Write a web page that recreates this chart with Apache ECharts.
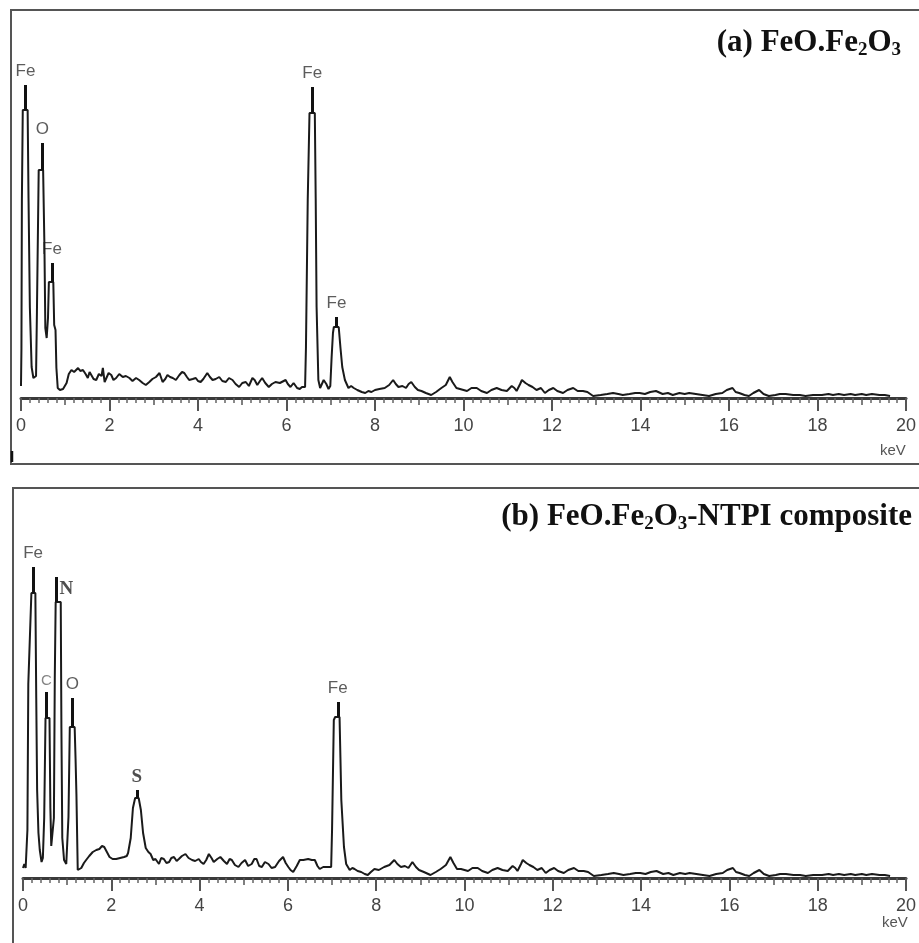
<!DOCTYPE html>
<html>
<head>
<meta charset="utf-8">
<script src="https://cdn.jsdelivr.net/npm/echarts@6/dist/echarts.min.js"></script>
<style>
  html, body { margin: 0; padding: 0; background: #fff; }
  #chart { width: 919px; height: 943px; }
</style>
</head>
<body>
<div id="chart"></div>
<script>
// EDS spectrum (a) FeO.Fe2O3 : [keV, counts]
const spectrumA = [
  [0.00, 12], [0.01, 50], [0.02, 198], [0.04, 288], [0.15, 288], [0.17, 200], [0.20, 91], [0.24, 31],
  [0.28, 20], [0.31, 18], [0.34, 22], [0.36, 86], [0.40, 228], [0.50, 228], [0.53, 150], [0.55, 70],
  [0.58, 60], [0.61, 80], [0.63, 116], [0.73, 116], [0.75, 73], [0.78, 68], [0.80, 30], [0.83, 10],
  [0.88, 8], [0.95, 9], [1.03, 15], [1.08, 24], [1.14, 28], [1.20, 26], [1.29, 30], [1.34, 27],
  [1.40, 28], [1.46, 24], [1.51, 20], [1.55, 26], [1.59, 25], [1.64, 19], [1.70, 18], [1.76, 24],
  [1.82, 22], [1.85, 30], [1.89, 16], [1.93, 15], [1.98, 25], [2.04, 23], [2.09, 18], [2.15, 20],
  [2.22, 24], [2.30, 21], [2.37, 22], [2.45, 20], [2.52, 17], [2.60, 20], [2.67, 18], [2.75, 15],
  [2.82, 13], [2.90, 16], [2.97, 19], [3.05, 21], [3.13, 25], [3.20, 16], [3.26, 19], [3.31, 23],
  [3.37, 21], [3.43, 20], [3.50, 18], [3.58, 23], [3.64, 26], [3.69, 25], [3.75, 21], [3.80, 18],
  [3.88, 19], [3.95, 20], [4.00, 17], [4.06, 16], [4.12, 19], [4.21, 25], [4.27, 21], [4.33, 18],
  [4.40, 19], [4.48, 21], [4.55, 17], [4.63, 16], [4.70, 20], [4.78, 18], [4.85, 14], [4.93, 11],
  [5.00, 15], [5.08, 16], [5.15, 12], [5.23, 20], [5.28, 18], [5.34, 13], [5.40, 17], [5.45, 20],
  [5.52, 15], [5.60, 11], [5.67, 14], [5.75, 16], [5.85, 15], [5.98, 18], [6.03, 14], [6.09, 11],
  [6.16, 15], [6.24, 10], [6.30, 9], [6.35, 11], [6.42, 11], [6.44, 51], [6.48, 198], [6.52, 285],
  [6.64, 285], [6.66, 200], [6.68, 91], [6.72, 18], [6.76, 10], [6.80, 12], [6.84, 18], [6.90, 14],
  [6.95, 9], [6.99, 12], [7.02, 41], [7.05, 65], [7.07, 71], [7.18, 71], [7.22, 50], [7.26, 31],
  [7.32, 18], [7.40, 10], [7.46, 12], [7.52, 10], [7.60, 8], [7.70, 6], [7.78, 5], [7.85, 7],
  [7.92, 6], [8.00, 8], [8.10, 9], [8.22, 10], [8.32, 13], [8.41, 18], [8.47, 14], [8.53, 11],
  [8.62, 12], [8.70, 10], [8.76, 14], [8.82, 16], [8.90, 11], [8.97, 8], [9.05, 7], [9.15, 5],
  [9.27, 3], [9.38, 6], [9.50, 10], [9.60, 13], [9.69, 21], [9.75, 16], [9.84, 10], [9.92, 9],
  [10.00, 8], [10.08, 7], [10.18, 10], [10.30, 10], [10.40, 7], [10.53, 5], [10.63, 8], [10.75, 10],
  [10.86, 8], [10.98, 7], [11.09, 12], [11.15, 10], [11.20, 7], [11.28, 14], [11.32, 18], [11.40, 15],
  [11.47, 13], [11.56, 11], [11.65, 8], [11.75, 10], [11.84, 5], [11.93, 8], [12.03, 10], [12.12, 7],
  [12.25, 5], [12.35, 8], [12.48, 10], [12.58, 7], [12.70, 7], [12.80, 6], [12.93, 2], [13.10, 3],
  [13.25, 4], [13.38, 5], [13.50, 4], [13.60, 3], [13.75, 4], [13.88, 5], [13.98, 5], [14.10, 4],
  [14.22, 6], [14.35, 7], [14.50, 4], [14.62, 5], [14.73, 3], [14.88, 5], [15.00, 4], [15.10, 5],
  [15.25, 4], [15.40, 3], [15.55, 2], [15.70, 4], [15.85, 5], [15.95, 8], [16.08, 10], [16.15, 6],
  [16.23, 5], [16.35, 3], [16.45, 2], [16.55, 5], [16.68, 8], [16.78, 4], [16.90, 2], [17.05, 3],
  [17.15, 4], [17.28, 4], [17.45, 3], [17.60, 3], [17.73, 2], [17.90, 3], [18.10, 3], [18.25, 4],
  [18.35, 3], [18.48, 4], [18.60, 3], [18.75, 4], [18.85, 3], [19.00, 4], [19.10, 3], [19.23, 4],
  [19.40, 3], [19.52, 3], [19.64, 2]
];

// EDS spectrum (b) FeO.Fe2O3-NTPI composite : [keV, counts]
const spectrumB = [
  [0.00, 10], [0.03, 14], [0.06, 10], [0.09, 11], [0.10, 48], [0.12, 194], [0.19, 285], [0.28, 285],
  [0.30, 180], [0.32, 88], [0.35, 45], [0.38, 28], [0.42, 16], [0.45, 20], [0.48, 60], [0.51, 160],
  [0.60, 160], [0.62, 70], [0.64, 32], [0.67, 30], [0.70, 60], [0.72, 200], [0.74, 276], [0.855, 276],
  [0.87, 150], [0.89, 40], [0.93, 18], [0.98, 14], [1.02, 16], [1.03, 61], [1.06, 151], [1.17, 151],
  [1.19, 120], [1.21, 84], [1.24, 8], [1.32, 10], [1.38, 15], [1.43, 18], [1.50, 22], [1.58, 26],
  [1.66, 28], [1.73, 29], [1.79, 32], [1.84, 31], [1.90, 26], [1.96, 21], [2.03, 19], [2.11, 19],
  [2.20, 20], [2.29, 21], [2.35, 22], [2.38, 25], [2.44, 40], [2.49, 70], [2.54, 80], [2.62, 80],
  [2.67, 68], [2.72, 45], [2.78, 30], [2.84, 26], [2.89, 24], [2.95, 18], [3.00, 19], [3.08, 14],
  [3.13, 20], [3.19, 19], [3.25, 15], [3.31, 16], [3.36, 20], [3.42, 21], [3.48, 17], [3.53, 19],
  [3.60, 22], [3.68, 24], [3.75, 20], [3.83, 18], [3.90, 17], [3.98, 19], [4.03, 16], [4.09, 14],
  [4.15, 18], [4.21, 24], [4.27, 20], [4.32, 16], [4.40, 19], [4.47, 21], [4.55, 17], [4.62, 14],
  [4.68, 19], [4.73, 18], [4.80, 13], [4.88, 11], [4.95, 15], [5.03, 18], [5.10, 12], [5.18, 14],
  [5.24, 19], [5.29, 19], [5.35, 12], [5.41, 11], [5.48, 16], [5.56, 14], [5.63, 10], [5.71, 11],
  [5.80, 17], [5.89, 21], [5.95, 15], [6.01, 11], [6.06, 8], [6.12, 6], [6.20, 12], [6.27, 18],
  [6.35, 18], [6.46, 19], [6.54, 18], [6.61, 18], [6.67, 12], [6.72, 9], [6.80, 11], [6.91, 11],
  [6.98, 11], [7.00, 48], [7.04, 158], [7.07, 161], [7.17, 161], [7.19, 120], [7.21, 78], [7.27, 31],
  [7.32, 14], [7.40, 8], [7.46, 10], [7.51, 9], [7.58, 7], [7.66, 6], [7.74, 4], [7.81, 3],
  [7.88, 6], [7.96, 9], [8.06, 8], [8.18, 11], [8.30, 13], [8.41, 18], [8.48, 14], [8.56, 11],
  [8.65, 12], [8.73, 10], [8.82, 16], [8.90, 11], [8.97, 8], [9.08, 6], [9.23, 3], [9.35, 6],
  [9.46, 9], [9.58, 13], [9.68, 21], [9.75, 15], [9.83, 9], [9.92, 9], [10.00, 8], [10.08, 7],
  [10.18, 10], [10.30, 10], [10.40, 7], [10.53, 5], [10.63, 8], [10.75, 10], [10.86, 8], [10.98, 7],
  [11.09, 12], [11.15, 10], [11.20, 7], [11.28, 14], [11.32, 18], [11.40, 15], [11.47, 13], [11.56, 11],
  [11.65, 8], [11.75, 10], [11.84, 5], [11.93, 8], [12.03, 10], [12.12, 7], [12.25, 5], [12.35, 8],
  [12.48, 10], [12.58, 7], [12.70, 7], [12.80, 6], [12.93, 2], [13.10, 3], [13.25, 4], [13.38, 5],
  [13.50, 4], [13.60, 3], [13.75, 4], [13.88, 5], [13.98, 5], [14.10, 4], [14.22, 6], [14.35, 7],
  [14.50, 4], [14.62, 5], [14.73, 3], [14.88, 5], [15.00, 4], [15.10, 5], [15.25, 4], [15.40, 3],
  [15.55, 2], [15.70, 4], [15.85, 5], [15.95, 8], [16.08, 10], [16.15, 6], [16.23, 5], [16.35, 3],
  [16.45, 2], [16.55, 5], [16.68, 8], [16.78, 4], [16.90, 2], [17.05, 3], [17.15, 4], [17.28, 4],
  [17.45, 3], [17.60, 3], [17.73, 2], [17.90, 3], [18.10, 3], [18.25, 4], [18.35, 3], [18.48, 4],
  [18.60, 3], [18.75, 4], [18.85, 3], [19.00, 4], [19.10, 3], [19.23, 4], [19.40, 3], [19.52, 3],
  [19.64, 2]
];

// peak annotations: element, energy (keV), peak counts, top of marker bar
const peakNamesA = ['Fe', 'O', 'Fe', 'Fe', 'Fe'];
const peakEnergyA = [0.10, 0.48, 0.70, 6.58, 7.13];
const peakTopA = [288, 228, 116, 285, 71];
const markTopA = [313, 255, 135, 311, 81];

const peakNamesB = ['Fe', 'C', 'N', 'O', 'S', 'Fe'];
const peakEnergyB = [0.23, 0.53, 0.76, 1.12, 2.58, 7.13];
const peakTopB = [285, 160, 276, 151, 80, 161];
const markTopB = [311, 186, 301, 180, 88, 176];

const xTickLabels = [0, 2, 4, 6, 8, 10, 12, 14, 16, 18, 20];

const chart = echarts.init(document.getElementById('chart'));

// 标签样式（N、S是粗体衬线字）
function labelStyle(name) {
  if (name === 'N') {
    return { position: 'right', offset: [-2, 12], fontFamily: 'Liberation Serif', fontWeight: 'bold', fontSize: 19, color: '#222' };
  }
  if (name === 'S') {
    return { position: 'top', distance: 3, fontFamily: 'Liberation Serif', fontWeight: 'bold', fontSize: 19, color: '#222' };
  }
  if (name === 'C') {
    return { position: 'top', distance: 4, fontFamily: 'Liberation Sans', fontSize: 15, color: '#666' };
  }
  return { position: 'top', distance: 5, fontFamily: 'Liberation Sans', fontSize: 17, color: '#333' };
}

function spectrumSeries(idx, data, energies, tops, marks) {
  return {
    type: 'line',
    xAxisIndex: idx * 2,
    yAxisIndex: idx,
    data: data,
    showSymbol: false,
    animation: false,
    lineStyle: { color: '#1a1a1a', width: 2 },
    markLine: {
      silent: true,
      animation: false,
      symbol: ['none', 'none'],
      label: { show: false },
      lineStyle: { color: '#111', width: 3, type: 'solid' },
      data: energies.map((e, i) => [{ coord: [e, tops[i]] }, { coord: [e, marks[i]] }])
    }
  };
}

function labelSeries(idx, names, energies, marks) {
  return {
    type: 'scatter',
    xAxisIndex: idx * 2,
    yAxisIndex: idx,
    symbolSize: 0,
    silent: true,
    animation: false,
    data: names.map((n, i) => ({
      value: [energies[i], marks[i]],
      label: Object.assign({ show: true, formatter: n }, labelStyle(n))
    }))
  };
}

function xAxesFor(gridIndex) {
  return [
    {
      gridIndex: gridIndex, type: 'value', position: 'bottom', min: 0, max: 20, interval: 1,
      axisLine: { show: true, onZero: false, lineStyle: { color: '#3a3a3a', width: 3 } },
      axisTick: { show: true, length: 7, lineStyle: { color: '#555', width: 1.5 } },
      minorTick: { show: true, splitNumber: 5, length: 5, lineStyle: { color: '#666', width: 1.5 } },
      axisLabel: { show: false },
      splitLine: { show: false }
    },
    {
      gridIndex: gridIndex, type: 'value', position: 'bottom', offset: 0, min: 0, max: 20, interval: 2,
      axisLine: { show: false, onZero: false },
      axisTick: { show: true, length: 13, lineStyle: { color: '#555', width: 2 } },
      axisLabel: {
        show: true, margin: 19, fontFamily: 'Liberation Sans', fontSize: 18, color: '#444',
        formatter: v => (xTickLabels.indexOf(v) >= 0 ? String(v) : '')
      },
      splitLine: { show: false }
    }
  ];
}

const titleRich = {
  t: { fontFamily: 'Liberation Serif', fontWeight: 'bold', fontSize: 31, color: '#111', lineHeight: 34 },
  s: { fontFamily: 'Liberation Serif', fontWeight: 'bold', fontSize: 19, color: '#111', lineHeight: 34, verticalAlign: 'bottom' }
};

chart.setOption({
  backgroundColor: '#fff',
  animation: false,
  title: [
    {
      text: '{t|(a) FeO.Fe}{s|2}{t|O}{s|3}',
      right: 18, top: 26, padding: 0,
      textStyle: { rich: titleRich }
    },
    {
      text: '{t|(b) FeO.Fe}{s|2}{t|O}{s|3}{t|-NTPI composite}',
      right: 7, top: 500, padding: 0,
      textStyle: { rich: titleRich }
    }
  ],
  grid: [
    { left: 21, right: 10, top: 18, height: 380 },
    { left: 23, right: 7, top: 498, height: 380 }
  ],
  xAxis: xAxesFor(0).concat(xAxesFor(1)),
  yAxis: [
    { gridIndex: 0, type: 'value', min: 0, max: 380, show: false },
    { gridIndex: 1, type: 'value', min: 0, max: 380, show: false }
  ],
  graphic: [
    // 外框
    { type: 'rect', shape: { x: 11, y: 10, width: 940, height: 454 }, style: { fill: 'none', stroke: '#555', lineWidth: 2 }, silent: true },
    { type: 'rect', shape: { x: 13, y: 488, width: 940, height: 480 }, style: { fill: 'none', stroke: '#555', lineWidth: 2 }, silent: true },
    { type: 'line', shape: { x1: 12, y1: 451, x2: 12, y2: 462 }, style: { stroke: '#111', lineWidth: 2.5 }, silent: true },
    { type: 'text', left: 880, top: 443, style: { text: 'keV', font: '15px "Liberation Sans"', fill: '#555' }, silent: true },
    { type: 'text', left: 882, top: 915, style: { text: 'keV', font: '15px "Liberation Sans"', fill: '#555' }, silent: true }
  ],
  series: [
    spectrumSeries(0, spectrumA, peakEnergyA, peakTopA, markTopA),
    labelSeries(0, peakNamesA, peakEnergyA, markTopA),
    spectrumSeries(1, spectrumB, peakEnergyB, peakTopB, markTopB),
    labelSeries(1, peakNamesB, peakEnergyB, markTopB)
  ]
});
</script>
</body>
</html>
